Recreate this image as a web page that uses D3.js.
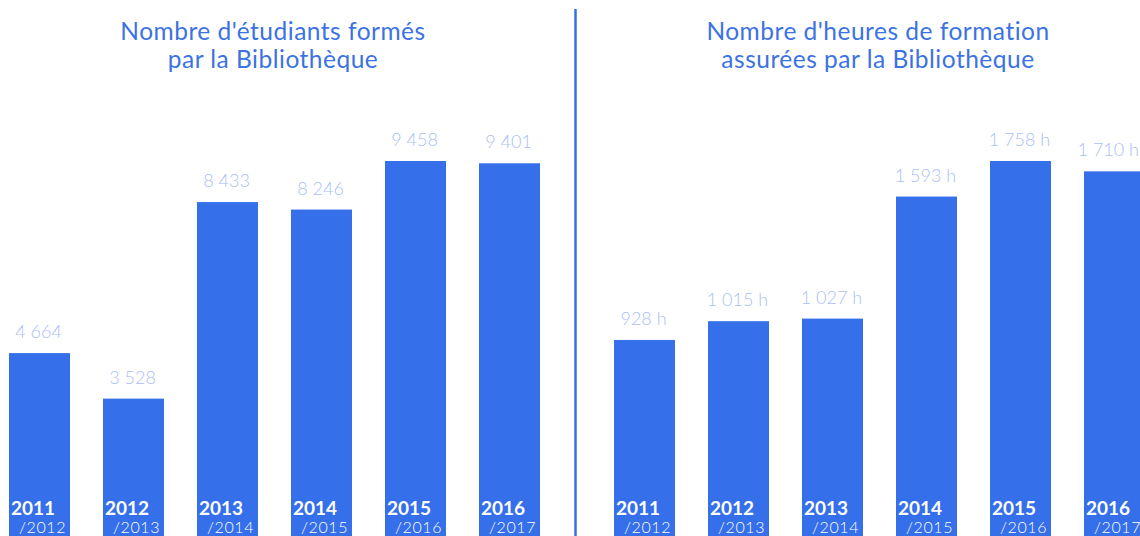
<!DOCTYPE html>
<html>
<head>
<meta charset="utf-8">
<script src="https://cdn.jsdelivr.net/npm/d3@7"></script>
<style>
  html, body { margin: 0; padding: 0; background: #fff; }
  svg { display: block; }
</style>
</head>
<body>
<svg id="chart" width="1140" height="536"></svg>
<script>
// Academic years (start / end)
const yearStart = ["2011", "2012", "2013", "2014", "2015", "2016"];
const yearEnd = ["/2012", "/2013", "/2014", "/2015", "/2016", "/2017"];

// Students trained by the library
const students = [4664, 3528, 8433, 8246, 9458, 9401];
// Training hours provided by the library
const hours = [928, 1015, 1027, 1593, 1758, 1710];

const titleStudents = ["Nombre d'étudiants formés", "par la Bibliothèque"];
const titleHours = ["Nombre d'heures de formation", "assurées par la Bibliothèque"];

const W = 1140;
const BAR = "#356fea";
const LABEL = "#abc0f5";
const TITLE = "#3b72e4";

const svg = d3.select("#chart");
const fmt = v => d3.format(",")(v).replace(/,/g, " ");

function panel(values, title, x0, centerX, suffix) {
  const g = svg.append("g");
  const x = d3.scaleBand().domain(yearStart).range([x0, x0 + 531]).paddingInner(33 / 94).paddingOuter(0);
  const y = d3.scaleLinear().domain([0, d3.max(values)]).range([540, 161]);

  g.append("text")
    .attr("x", centerX).attr("y", 40)
    .attr("text-anchor", "middle")
    .attr("font-family", "Lato, sans-serif")
    .attr("font-size", 24.5)
    .attr("letter-spacing", 0.5)
    .attr("fill", TITLE)
    .selectAll("tspan").data(title).join("tspan")
    .attr("x", centerX).attr("dy", (d, i) => i === 0 ? 0 : 28)
    .text(d => d);

  const bars = g.selectAll("g.bar").data(values).join("g").attr("class", "bar");

  bars.append("rect")
    .attr("x", (d, i) => x(yearStart[i]))
    .attr("y", d => y(d))
    .attr("width", x.bandwidth())
    .attr("height", d => y(0) - y(d))
    .attr("fill", BAR);

  // Value labels, kept inside the right edge of the drawing
  bars.append("text")
    .attr("y", d => y(d) - 15)
    .attr("text-anchor", "middle")
    .attr("font-family", "Lato, sans-serif")
    .attr("font-weight", 300)
    .attr("font-size", 18)
    .attr("fill", LABEL)
    .text(d => fmt(d) + suffix)
    .attr("x", function (d, i) {
      const cx = x(yearStart[i]) + x.bandwidth() / 2 - 1;
      const half = this.getComputedTextLength() / 2;
      return Math.min(cx, W - 1 - half);
    });

  bars.append("text")
    .attr("x", (d, i) => x(yearStart[i]) + 2)
    .attr("y", 515)
    .attr("font-family", "Lato, sans-serif")
    .attr("font-weight", 700)
    .attr("font-size", 19)
    .attr("fill", "#fff")
    .text((d, i) => yearStart[i]);

  bars.append("text")
    .attr("x", (d, i) => x(yearStart[i]) + 10)
    .attr("y", 533)
    .attr("font-family", "Lato, sans-serif")
    .attr("font-weight", 300)
    .attr("font-size", 16)
    .attr("letter-spacing", 0.6)
    .attr("fill", "#fff")
    .text((d, i) => yearEnd[i]);
}

panel(students, titleStudents, 9, 273, "");
panel(hours, titleHours, 614, 878, " h");

// Divider between the two panels
svg.append("line")
  .attr("x1", 575.5).attr("x2", 575.5)
  .attr("y1", 9).attr("y2", 536)
  .attr("stroke", BAR)
  .attr("stroke-width", 2.5);
</script>
</body>
</html>
